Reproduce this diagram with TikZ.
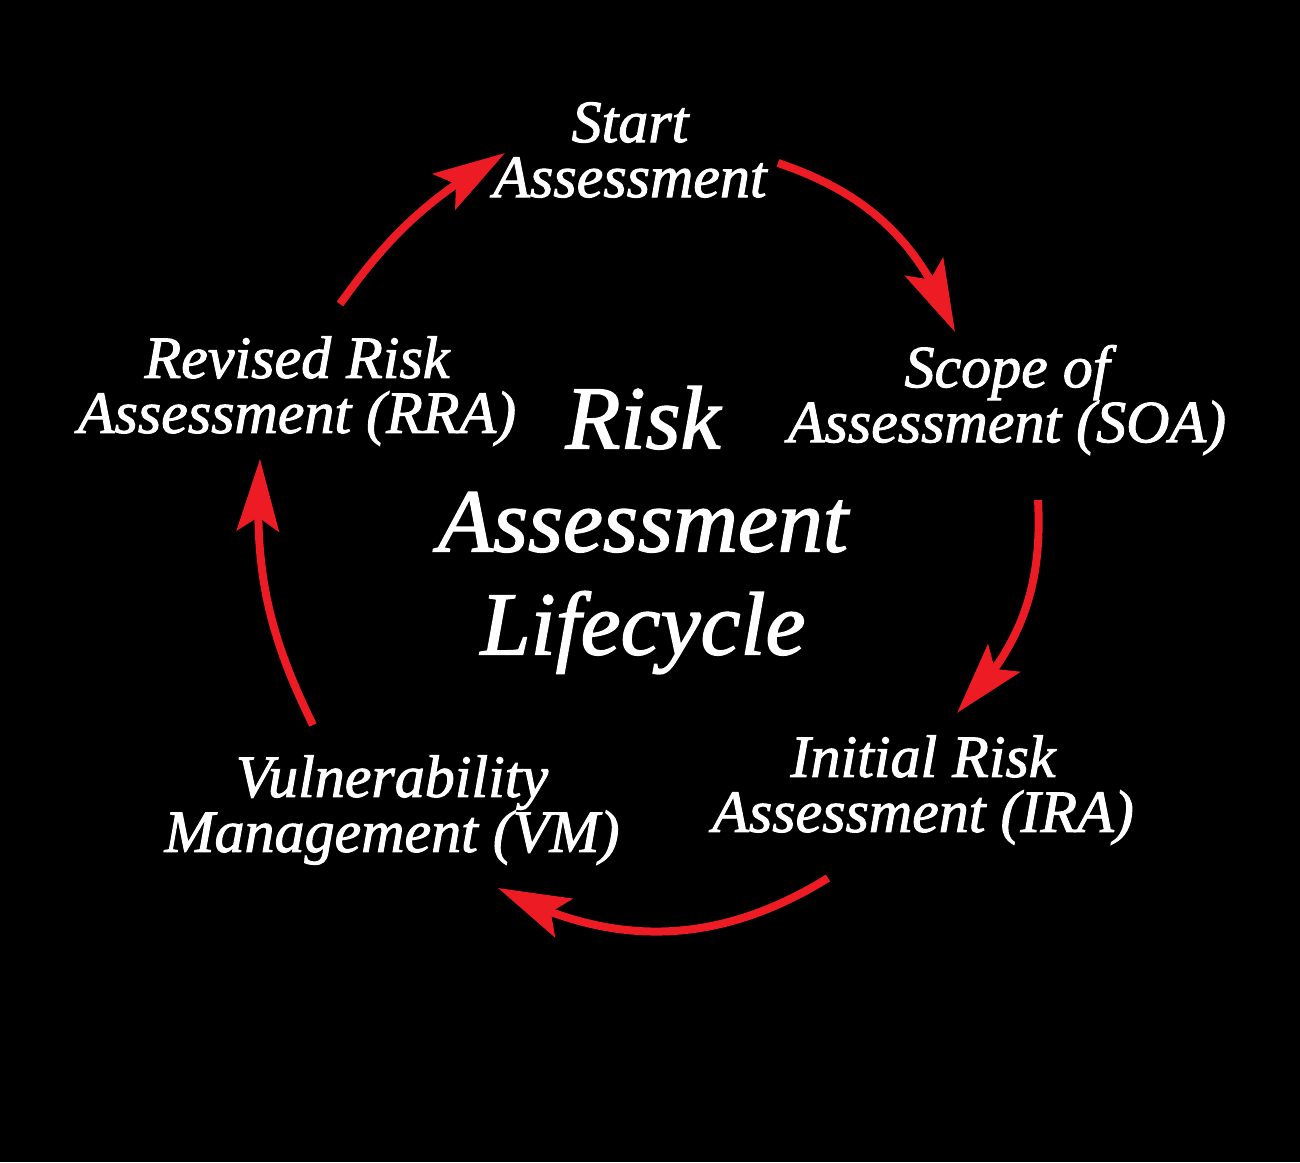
\documentclass[tikz,border=0pt]{standalone}
\usepackage{fontspec}
\setmainfont{Liberation Serif}
\newfontfamily\cyclefont{Liberation Serif Italic}[FakeBold=1.6]
\usetikzlibrary{arrows.meta,bending}
\definecolor{cyclered}{RGB}{237,28,36}
\tikzset{
  stage/.style={text=white, align=center, inner sep=0pt,
    font=\fontsize{30}{27.5}\selectfont\cyclefont},
  hub/.style={text=white, align=center, inner sep=0pt,
    font=\fontsize{45}{51.5}\selectfont\cyclefont},
  cyc/.style={draw=cyclered, line width=4pt,
    -{Stealth[length=36pt,width=21pt,inset=7pt,flex]}},
}
\begin{document}
\begin{tikzpicture}[x=0.5pt,y=-0.5pt]
\fill[black] (0,0) rectangle (1300,1162);
\useasboundingbox (0,0) rectangle (1300,1162);

\node[hub] (hub) at (643,530) {Risk\\Assessment\\Lifecycle};

\node[stage] (start) at (630,150) {Start\\Assessment};
\node[stage] (soa) at (1007,400) {Scope of\\Assessment (SOA)};
\node[stage] (ira) at (923,790) {Initial Risk\\Assessment (IRA)};
\node[stage] (vm) at (392,810) {Vulnerability\\Management (VM)};
\node[stage] (rra) at (297,391) {Revised Risk\\Assessment (RRA)};

% arrows round the cycle
\foreach \a/\as/\b/\bs/\bend in {
    rra/{43,-87}/start/{-125,3}/12,
    start/{148,13}/soa/{-52,-68}/25,
    soa/{31,100}/ira/{34,-77}/24,
    ira/{-95,88}/vm/{106,78}/30,
    vm/{-79,-85}/rra/{-37,68}/15}
  \draw[cyc] ([shift={(\as)}]\a.center) to[bend left=\bend] ([shift={(\bs)}]\b.center);
\end{tikzpicture}
\end{document}
